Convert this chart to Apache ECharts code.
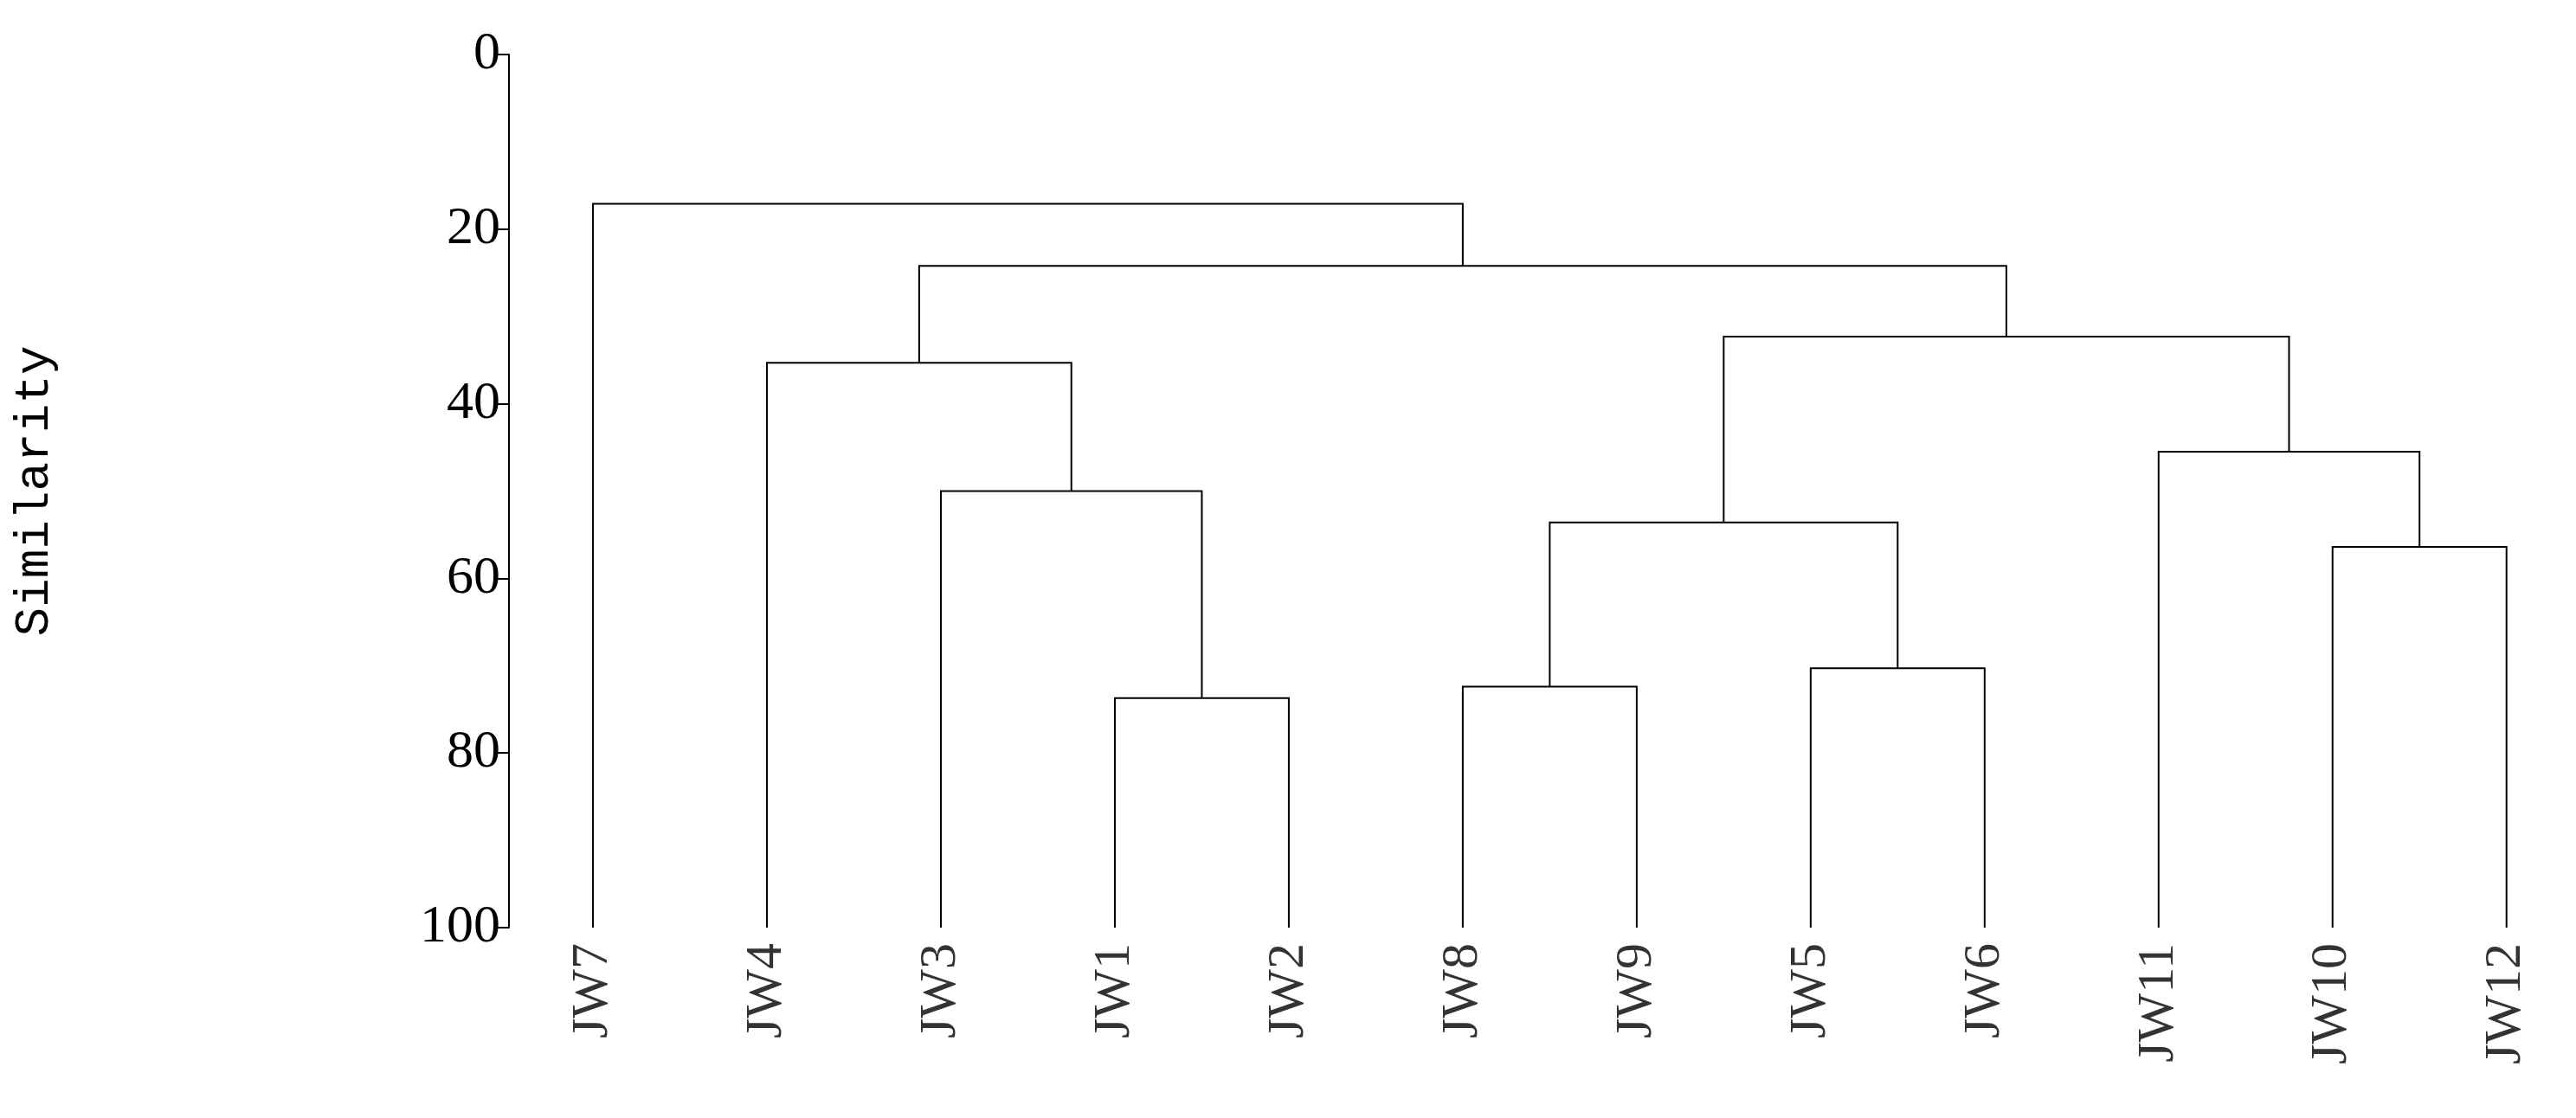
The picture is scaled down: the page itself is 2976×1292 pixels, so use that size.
<!DOCTYPE html>
<html><head><meta charset="utf-8">
<script src="https://cdn.jsdelivr.net/npm/echarts@6/dist/echarts.min.js"></script>
<style>html,body{margin:0;padding:0;background:#fff}#c{width:2976px;height:1292px}</style>
</head><body><div id="c"></div>
<script>
const leaves = ['JW7','JW4','JW3','JW1','JW2','JW8','JW9','JW5','JW6','JW11','JW10','JW12'];
// merges: node ids 0..11 are leaves, 12+ are merges in order
const mergeLeft  = [3, 2, 1, 5, 7, 15, 10, 9, 17, 14, 0];
const mergeRight = [4, 12, 13, 6, 8, 16, 11, 18, 19, 20, 21];
const mergeHeight = [73.7, 50.0, 35.3, 72.4, 70.3, 53.6, 56.4, 45.5, 32.3, 24.2, 17.1];
const yTicks = [0, 20, 40, 60, 80, 100];

const nx = leaves.map((_, i) => i);
const nh = leaves.map(() => 100);
const lines = [];
for (let k = 0; k < mergeLeft.length; k++) {
  const a = mergeLeft[k], b = mergeRight[k], h = mergeHeight[k];
  lines.push({coords: [[nx[a], nh[a]], [nx[a], h], [nx[b], h], [nx[b], nh[b]]]});
  nx.push((nx[a] + nx[b]) / 2);
  nh.push(h);
}
const font = '"Liberation Serif","DejaVu Serif",serif';
const chart = echarts.init(document.getElementById('c'));
chart.setOption({
  animation: false,
  grid: {left: 588, top: 63, bottom: 220, right: 20},
  xAxis: {type: 'value', min: -0.483, max: 11.3, show: false},
  yAxis: {
    type: 'value', min: 0, max: 100, interval: 20, inverse: true,
    name: 'Similarity', nameLocation: 'middle', nameGap: 520, nameRotate: 90,
    nameTextStyle: {fontFamily: '"Liberation Mono","DejaVu Sans Mono",monospace', fontSize: 56, color: '#000'},
    axisLine: {show: true, onZero: false, lineStyle: {color: '#000', width: 2}},
    axisTick: {show: true, length: 14, lineStyle: {color: '#000', width: 2}},
    splitLine: {show: false},
    axisLabel: {fontFamily: font, fontSize: 62, color: '#000', margin: 10,
      formatter: v => yTicks.includes(v) ? String(v) : ''}
  },
  series: [
    {type: 'lines', coordinateSystem: 'cartesian2d', polyline: true, silent: true,
     lineStyle: {color: '#000', width: 2, opacity: 1}, data: lines},
    {type: 'scatter', symbolSize: 0, silent: true,
     data: leaves.map((n, i) => ({value: [i, 100], name: n})),
     label: {show: true, position: 'bottom', distance: 18, rotate: 90, align: 'right', verticalAlign: 'middle',
       formatter: p => p.name, fontFamily: font, fontSize: 60, color: '#000'}}
  ]
});
</script></body></html>
